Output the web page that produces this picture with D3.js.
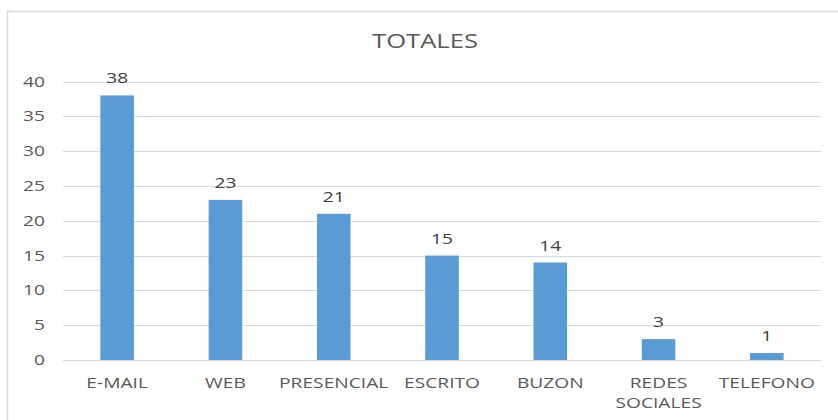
<!DOCTYPE html>
<html><head><meta charset="utf-8">
<script src="https://cdn.jsdelivr.net/npm/d3@7"></script>
<style>body{margin:0;background:#fff;}svg{display:block;font-family:"Open Sans",sans-serif;}</style>
</head><body><svg id="c" width="838" height="420"></svg>
<script>
const categories = [["E-MAIL"],["WEB"],["PRESENCIAL"],["ESCRITO"],["BUZON"],["REDES","SOCIALES"],["TELEFONO"]];
const values = [38,23,21,15,14,3,1];
const yTicks = [0,5,10,15,20,25,30,35,40];
const title = "TOTALES";
const SX = 1.28;

const svg = d3.select("#c");
svg.append("rect").attr("x",7.5).attr("y",11.5).attr("width",840).attr("height",420)
  .attr("fill","#fff").attr("stroke","#d9d9d9").attr("stroke-width",1.5);

const x = d3.scaleBand().domain(categories.map(c=>c.join(" "))).range([63,821]).paddingInner(0.69).paddingOuter(0.345);
const y = d3.scaleLinear().domain([0,40]).range([360,81.5]);

function stext(parent, px, py, anchor, size, fill, lines, lh){
  const g = parent.append("g").attr("transform",`translate(${px},${py}) scale(${SX},1)`);
  const t = g.append("text").attr("text-anchor",anchor).attr("font-size",size).attr("fill",fill);
  lines.forEach((l,j)=>t.append("tspan").attr("x",0).attr("y",j*(lh||0)).text(l));
  return t;
}

stext(svg, 425, 48, "middle", 20, "#595959", [title]);

const g = svg.append("g");
g.selectAll("line.grid").data(yTicks).join("line")
  .attr("x1",63).attr("x2",821).attr("y1",d=>Math.round(y(d))+0.5).attr("y2",d=>Math.round(y(d))+0.5)
  .attr("stroke","#d9d9d9").attr("stroke-width",1.2);

const fmt = y.tickFormat();
yTicks.forEach(t=>{
  stext(svg, 45, y(t)+5, "end", 15, "#595959", [fmt(t)]);
});

g.selectAll("rect.bar").data(values).join("rect")
  .attr("x",(d,i)=>x(categories[i].join(" "))).attr("width",x.bandwidth())
  .attr("y",d=>y(d)).attr("height",d=>y(0)-y(d)).attr("fill","#5b9bd5");

values.forEach((d,i)=>{
  stext(svg, x(categories[i].join(" "))+x.bandwidth()/2, y(d)-12, "middle", 15, "#404040", [String(d)]);
});

categories.forEach((c,i)=>{
  stext(svg, x(c.join(" "))+x.bandwidth()/2, 388, "middle", 15, "#595959", c, 20);
});
</script></body></html>
